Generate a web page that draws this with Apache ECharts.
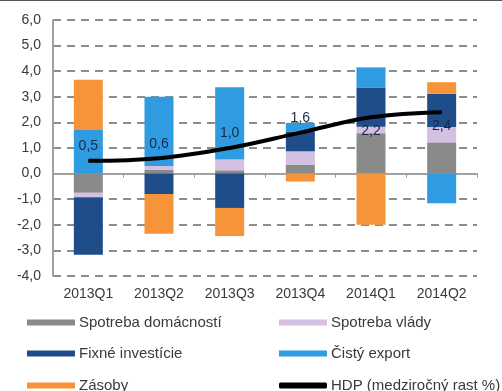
<!DOCTYPE html>
<html><head><meta charset="utf-8">
<script src="https://cdn.jsdelivr.net/npm/echarts@6/dist/echarts.min.js"></script>
<style>html,body{margin:0;padding:0;background:#fff}#c{width:502px;height:391px}</style>
</head><body><div id="c"></div>
<script>
const categories = ['2013Q1','2013Q2','2013Q3','2013Q4','2014Q1','2014Q2'];
const households = [-0.75, 0.15, 0.13, 0.35, 1.58, 1.22];
const government = [-0.17, 0.15, 0.42, 0.52, 0.25, 0.6];
const fixedInvestment = [-2.25, -0.8, -1.34, 0.78, 1.52, 1.3];
const netExport = [1.7, 2.7, 2.82, 0.33, 0.8, -1.16];
const inventories = [1.97, -1.55, -1.1, -0.31, -2.0, 0.45];
const gdp = [0.5, 0.6, 1.0, 1.6, 2.2, 2.4];
const yTicks = {min: -4, max: 6, interval: 1};

const names = ['Spotreba domácností','Spotreba vlády','Fixné investície','Čistý export','Zásoby','HDP (medziročný rast %)'];
const colors = ['#8a8a8a','#d3c0e2','#1f4d8a','#2f9be0','#f7943a','#000000'];
const fmt = v => v.toFixed(1).replace('.', ',');
const font = 'Liberation Sans';

function bar(i, data){
  return {name: names[i], type:'bar', stack:'s', barWidth:29, data:data,
    itemStyle:{color:colors[i]}, xAxisIndex:0};
}
const legendPos = [[27,324],[279,324],[27,355],[279,355],[27,387],[279,387]];
const legends = names.map((n,i)=>({data:[n], left:legendPos[i][0], top:legendPos[i][1]-9, height:22, padding:0,
  itemWidth:48, itemHeight:6, icon: i===5?'roundRect':'rect', itemGap:0,
  textStyle:{fontSize:15, color:'#3a3a3a', fontFamily:font, padding:[0,0,0,-1]}}));

const chart = echarts.init(document.getElementById('c'));
chart.setOption({
  animation:false,
  textStyle:{fontFamily:font},
  grid:{left:53, right:25, top:20, bottom:115},
  graphic:[{type:'line', shape:{x1:0,y1:0.5,x2:502,y2:0.5}, style:{stroke:'#555', lineWidth:1}}],
  legend: legends,
  xAxis:[
    {type:'category', data:categories, position:'bottom', axisLine:{show:false, onZero:false},
     axisTick:{show:false}, axisLabel:{fontSize:14, color:'#3a3a3a', margin:11, fontFamily:font}},
    {type:'category', data:categories, position:'bottom',
     axisLine:{onZero:true, lineStyle:{color:'#a0a0a0', width:2}},
     axisTick:{show:true, length:4, lineStyle:{color:'#999', width:1}}, axisLabel:{show:false}}
  ],
  yAxis:{type:'value', min:yTicks.min, max:yTicks.max, interval:yTicks.interval,
    axisLine:{show:true, lineStyle:{color:'#a0a0a0', width:2}}, axisTick:{show:false},
    axisLabel:{formatter:fmt, fontSize:14, color:'#3a3a3a', margin:12, fontFamily:font},
    splitLine:{lineStyle:{type:[8,6], color:'#8c8c8c', width:2}}},
  series:[
    bar(0, households), bar(1, government), bar(2, fixedInvestment), bar(3, netExport), bar(4, inventories),
    {name:names[5], type:'line', smooth:0.4, symbol:'circle', symbolSize:1, showSymbol:true, xAxisIndex:0,
     lineStyle:{color:'#000', width:4}, itemStyle:{color:'#000'},
     data: gdp.map((v,i)=>({value:v, label:{show:true, position: i<4?'top':'bottom', distance: i<4?7:6}})),
     label:{show:true, formatter:p=>fmt(p.value), fontSize:14, color:'#1b2a44', fontFamily:font},
     z:10}
  ]
});
</script></body></html>
